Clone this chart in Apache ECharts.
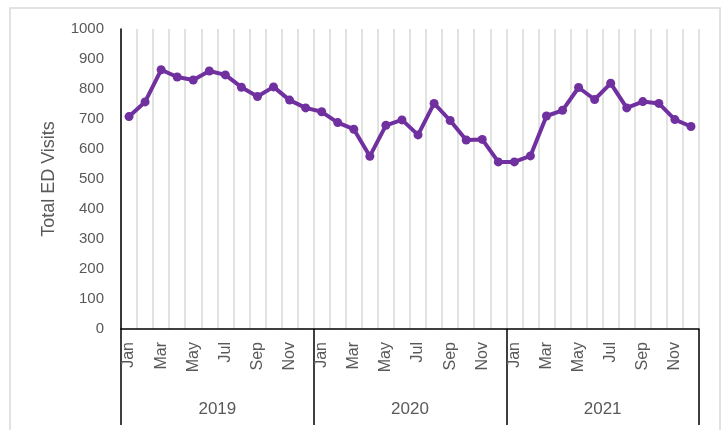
<!DOCTYPE html>
<html>
<head>
<meta charset="utf-8">
<script src="https://cdn.jsdelivr.net/npm/echarts@6/dist/echarts.min.js"></script>
<style>html,body{margin:0;padding:0;background:#fff;}#c{width:724px;height:430px;}</style>
</head>
<body>
<div id="c"></div>
<script>
var months = ['Jan','Feb','Mar','Apr','May','Jun','Jul','Aug','Sep','Oct','Nov','Dec'];
var years = ['2019','2020','2021'];
var visits2019 = [708, 757, 864, 840, 830, 860, 847, 806, 775, 807, 763, 737];
var visits2020 = [724, 688, 666, 576, 679, 697, 647, 752, 695, 630, 632, 557];
var visits2021 = [557, 577, 710, 729, 805, 765, 819, 737, 758, 752, 698, 675];
var yTicks = {min: 0, max: 1000, interval: 100};

var categories = [];
years.forEach(function (y) { months.forEach(function (m) { categories.push(m + ' ' + y); }); });
var values = visits2019.concat(visits2020, visits2021);

var FONT = 'Liberation Sans';
var GRAY = '#595959';
var chart = echarts.init(document.getElementById('c'), null, {renderer: 'canvas'});
chart.setOption({
  animation: false,
  backgroundColor: '#fff',
  graphic: [{
    type: 'rect', shape: {x: 10, y: 8, width: 710, height: 440},
    style: {fill: 'none', stroke: '#d9d9d9', lineWidth: 1.5}, z: -1
  }],
  grid: {left: 121, right: 25, top: 29, bottom: 101},
  xAxis: [{
    type: 'category', data: categories, boundaryGap: true,
    axisLine: {show: true, lineStyle: {color: '#000', width: 1.5}},
    axisTick: {show: false},
    splitLine: {show: true, interval: 0, lineStyle: {color: '#d9d9d9', width: 1.5}},
    axisLabel: {
      interval: 1, rotate: 90, margin: 13, color: GRAY, fontFamily: FONT, fontSize: 16,
      formatter: function (v) { return v.split(' ')[0]; }
    }
  }, {
    type: 'category', data: years, position: 'bottom', boundaryGap: true,
    axisLine: {show: false},
    axisTick: {show: true, length: 96, lineStyle: {color: '#000', width: 1.5}},
    splitLine: {show: false},
    axisLabel: {margin: 72, color: GRAY, fontFamily: FONT, fontSize: 17}
  }],
  yAxis: {
    type: 'value', min: yTicks.min, max: yTicks.max, interval: yTicks.interval,
    name: 'Total ED Visits', nameLocation: 'middle', nameRotate: 90, nameGap: 63,
    nameTextStyle: {color: GRAY, fontFamily: FONT, fontSize: 18},
    axisLine: {show: true, lineStyle: {color: '#000', width: 1.5}},
    axisTick: {show: false},
    splitLine: {show: false},
    axisLabel: {margin: 17, color: GRAY, fontFamily: FONT, fontSize: 15,
      formatter: function (v) { return String(v); }}
  },
  series: [{
    type: 'line', xAxisIndex: 0, data: values,
    symbol: 'circle', symbolSize: 9,
    lineStyle: {color: '#7030a0', width: 4},
    itemStyle: {color: '#7030a0'}
  }]
});
</script>
</body>
</html>
